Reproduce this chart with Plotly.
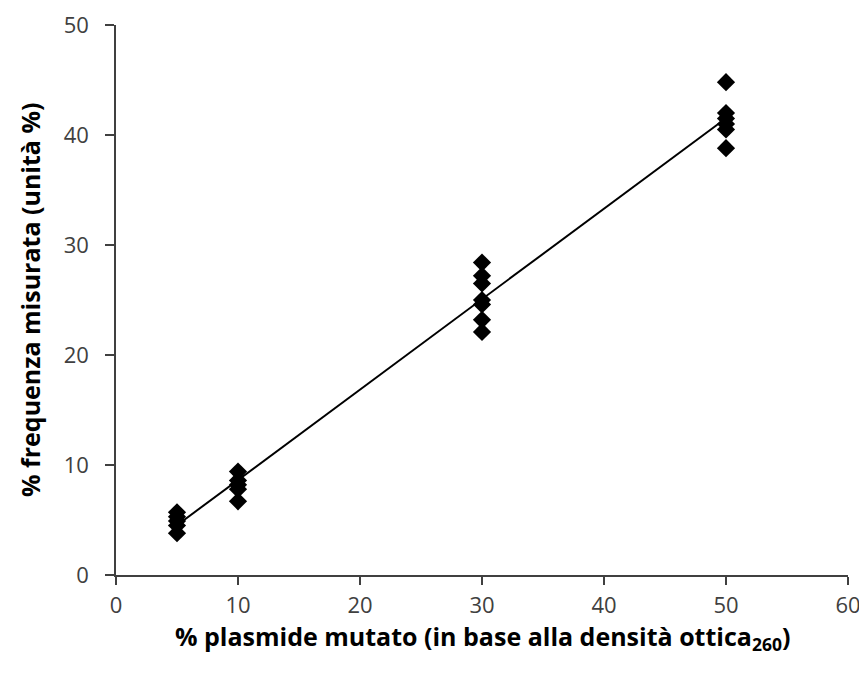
import numpy as np
import plotly.graph_objects as go

x_5 = [5, 5, 5, 5, 5]
y_5 = [3.8, 4.5, 4.9, 5.3, 5.7]
x_10 = [10, 10, 10, 10, 10]
y_10 = [6.7, 7.8, 8.2, 8.6, 9.4]
x_30 = [30, 30, 30, 30, 30, 30, 30]
y_30 = [22.1, 23.2, 24.6, 25.0, 26.5, 27.2, 28.4]
x_50 = [50, 50, 50, 50, 50, 50]
y_50 = [38.8, 40.5, 41.0, 41.5, 42.0, 44.8]
x_title = "% plasmide mutato (in base alla densità ottica<sub>260</sub>)"
y_title = "% frequenza misurata (unità %)"

xs = np.array(x_5 + x_10 + x_30 + x_50, dtype=float)
ys = np.array(y_5 + y_10 + y_30 + y_50, dtype=float)
slope, intercept = np.polyfit(xs, ys, 1)
line_x = [5, 50]
line_y = [slope * v + intercept for v in line_x]

fig = go.Figure()
fig.add_trace(go.Scatter(x=line_x, y=line_y, mode="lines",
                         line=dict(color="black", width=2), showlegend=False))
fig.add_trace(go.Scatter(x=xs, y=ys, mode="markers",
                         marker=dict(symbol="diamond", size=14, color="black"),
                         showlegend=False))

title_font = dict(size=25, color="black", family="Open Sans", weight="bold")
tick_font = dict(size=22, color="#404040", family="Open Sans")
fig.update_layout(
    width=867, height=677,
    margin=dict(l=108, r=27, t=17, b=110),
    paper_bgcolor="white", plot_bgcolor="white",
    font=dict(family="Open Sans", color="#333333"),
    annotations=[
        dict(text=x_title, xref="paper", yref="paper", x=0.5, y=0,
             yshift=-62, xanchor="center", yanchor="middle",
             showarrow=False, font=title_font),
        dict(text=y_title, xref="paper", yref="paper", x=0, y=0.5,
             xshift=-86, xanchor="center", yanchor="middle", textangle=-90,
             showarrow=False, font=title_font),
    ],
)
fig.update_xaxes(range=[0, 60], tickvals=[0, 10, 20, 30, 40, 50, 60],
                 automargin=False,
                 showgrid=False, zeroline=False, showline=True,
                 linecolor="#404040", linewidth=1.5,
                 ticks="outside", ticklen=8, tickcolor="#404040", tickwidth=1.5,
                 ticklabelstandoff=2,
                 tickfont=tick_font)
fig.update_yaxes(range=[0, 50], tickvals=[0, 10, 20, 30, 40, 50],
                 automargin=False,
                 showgrid=False, zeroline=False, showline=True,
                 linecolor="#404040", linewidth=1.5,
                 ticks="outside", ticklen=9, tickcolor="#404040", tickwidth=1.5,
                 ticklabelstandoff=12,
                 tickfont=tick_font)

fig.write_html("out.html")
